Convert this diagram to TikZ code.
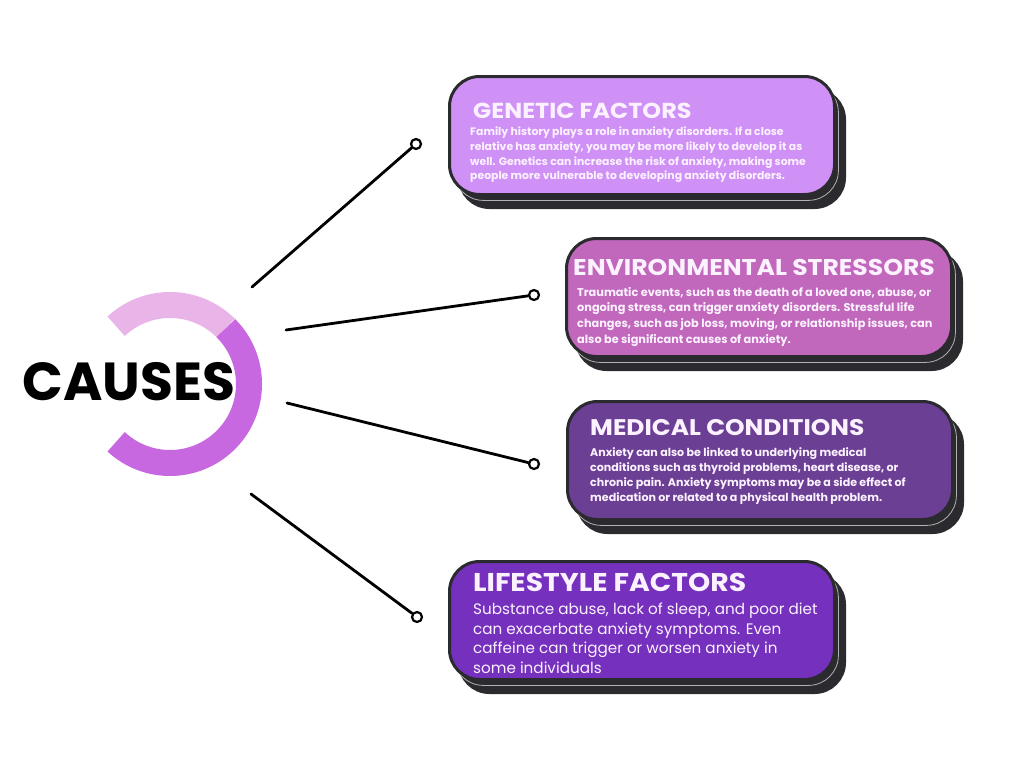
\documentclass[tikz,border=0pt]{standalone}
\usepackage{fontspec}
\setmainfont{Poppins}
\newfontfamily\titlefont[FakeStretch=1.1]{Poppins}
\definecolor{genfill}{HTML}{D091F7}
\definecolor{envfill}{HTML}{C167BC}
\definecolor{medfill}{HTML}{6B3F94}
\definecolor{lifefill}{HTML}{7530BE}
\definecolor{shadowc}{HTML}{2B2A2E}
\definecolor{ringlight}{HTML}{E9B5E8}
\definecolor{ringdark}{HTML}{C868E0}
\definecolor{txt}{HTML}{FCF2FF}
\tikzset{
  card/.style={rectangle, rounded corners=30pt, minimum width=385pt, minimum height=118pt,
    anchor=north west, draw=shadowc, line width=3pt, inner sep=0pt},
  shadowA/.style={card, fill=shadowc},
  shadowB/.style={card, fill=shadowc, draw=gray!60, line width=0.8pt},
  cardtitle/.style={anchor=base west, inner sep=0pt, text=txt},
  cardbody/.style={anchor=north west, inner sep=0pt, text=txt, align=left},
  conn/.style={line width=2.8pt, line cap=round},
  endpt/.style={circle, draw=black, line width=2.2pt, fill=white, minimum size=10pt, inner sep=0pt},
  ringseg/.style={line width=26pt, line cap=butt},
}
\begin{document}
\begin{tikzpicture}[x=1pt,y=-1pt]
\useasboundingbox[fill=white] (0,0) rectangle (1024,768);

% ring
\coordinate (rc) at (170,384);
\draw[ringseg, ringlight] ([shift={(-45:79)}]rc) arc[start angle=-45, end angle=-133, radius=79];
\draw[ringseg, ringdark] ([shift={(-45:79)}]rc) arc[start angle=-45, end angle=133, radius=79];
\node[anchor=base, inner sep=0pt, font=\bfseries\fontsize{53.5}{53.5}\selectfont] (causes) at (129,400) {CAUSES};

% connectors
\coordinate (s1) at (252,287);
\coordinate (s2) at (286,330);
\coordinate (s3) at (287,403);
\coordinate (s4) at (251,494);
\node[endpt] (e1) at (416,144) {};
\node[endpt] (e2) at (534,295) {};
\node[endpt] (e3) at (534,464) {};
\node[endpt] (e4) at (417,617) {};
\draw[conn] (s1) -- (e1);
\draw[conn] (s2) -- (e2);
\draw[conn] (s3) -- (e3);
\draw[conn] (s4) -- (e4);

% cards
\node[shadowA] (gens2) at (458,88) {};
\node[shadowB] (gens1) at (453,82) {};
\node[card, fill=genfill] (gen) at (448,75) {};
\node[cardtitle, font=\titlefont\bfseries\fontsize{21.7}{21.7}\selectfont] (gent) at (473,118) {GENETIC FACTORS};
\node[cardbody, font=\bfseries\fontsize{10.85}{14.7}\selectfont] (genb) at (470,127) {Family history plays a role in anxiety disorders. If a close\\relative has anxiety, you may be more likely to develop it as\\well. Genetics can increase the risk of anxiety, making some\\people more vulnerable to developing anxiety disorders.};

\node[shadowA] (envs2) at (575,250) {};
\node[shadowB] (envs1) at (570,244) {};
\node[card, fill=envfill] (env) at (565,237) {};
\node[cardtitle, font=\titlefont\bfseries\fontsize{22.8}{22.8}\selectfont] (envt) at (573,275) {ENVIRONMENTAL STRESSORS};
\node[cardbody, font=\bfseries\fontsize{11.3}{15.6}\selectfont] (envb) at (577,287) {Traumatic events, such as the death of a loved one, abuse, or\\ongoing stress, can trigger anxiety disorders. Stressful life\\changes, such as job loss, moving, or relationship issues, can\\also be significant causes of anxiety.};

\node[shadowA] (meds2) at (576,413) {};
\node[shadowB] (meds1) at (571,407) {};
\node[card, fill=medfill] (med) at (566,400) {};
\node[cardtitle, font=\titlefont\bfseries\fontsize{22.6}{22.6}\selectfont] (medt) at (590,435) {MEDICAL CONDITIONS};
\node[cardbody, font=\bfseries\fontsize{11.07}{15.2}\selectfont] (medb) at (590,447) {Anxiety can also be linked to underlying medical\\conditions such as thyroid problems, heart disease, or\\chronic pain. Anxiety symptoms may be a side effect of\\medication or related to a physical health problem.};

\node[shadowA] (lifes2) at (458,573) {};
\node[shadowB] (lifes1) at (453,567) {};
\node[card, fill=lifefill] (life) at (448,560) {};
\node[cardtitle, font=\titlefont\bfseries\fontsize{25.7}{25.7}\selectfont] (lifet) at (473,591) {LIFESTYLE FACTORS};
\node[cardbody, font=\fontsize{15.2}{19.5}\selectfont] (lifeb) at (473,603) {Substance abuse, lack of sleep, and poor diet\\can exacerbate anxiety symptoms. Even\\caffeine can trigger or worsen anxiety in\\some individuals};
\end{tikzpicture}
\end{document}
